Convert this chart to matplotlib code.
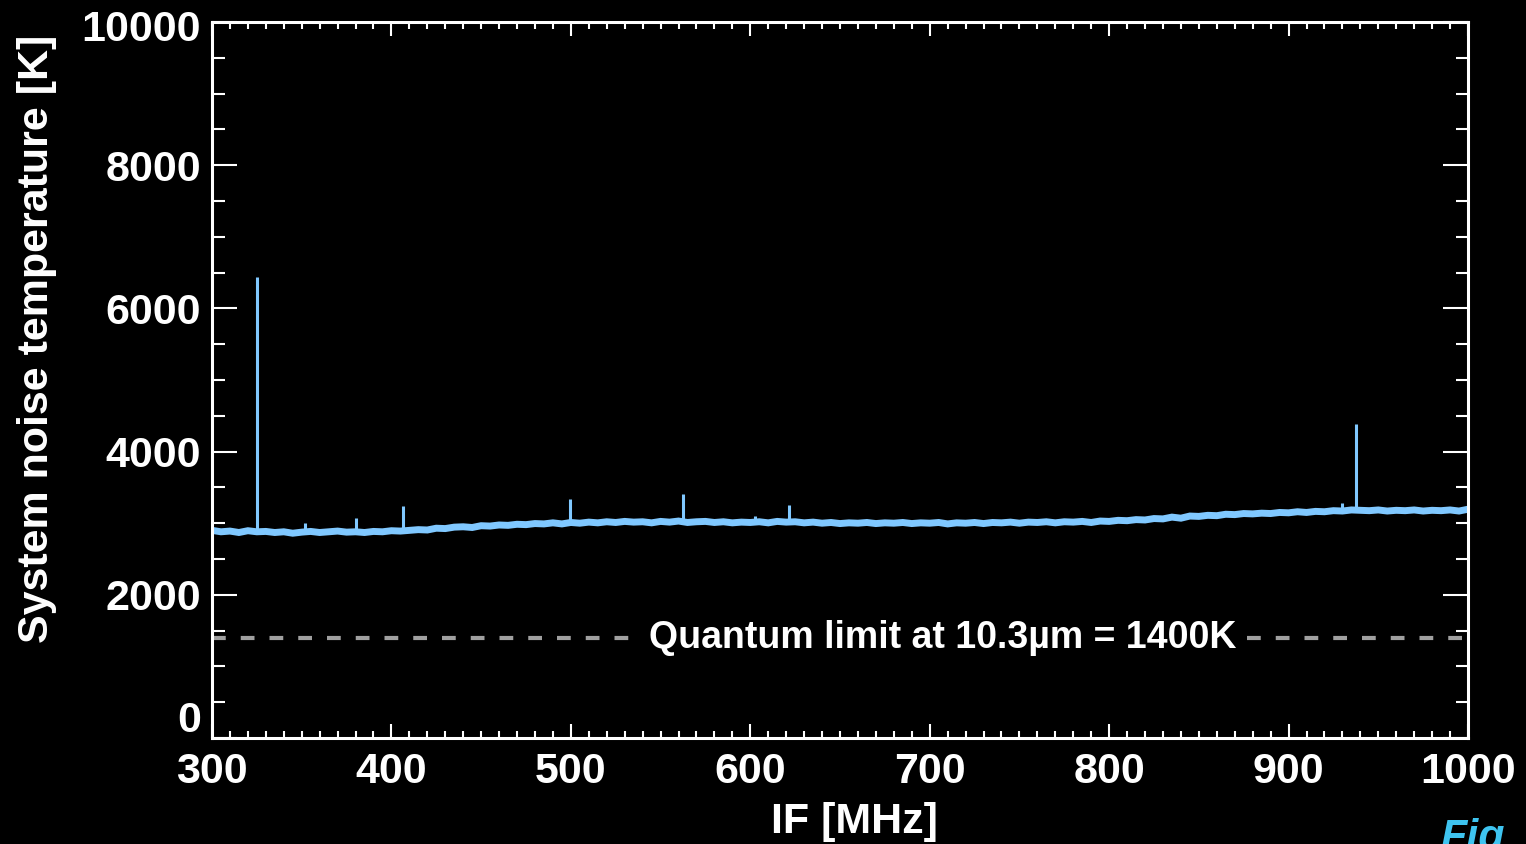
import numpy as np
import matplotlib
matplotlib.use('Agg')
import matplotlib.pyplot as plt
from matplotlib.ticker import MultipleLocator, FuncFormatter

if_start = 300
if_step = 5
t_sys = [
    2900, 2880, 2890, 2870, 2895, 2880, 2885, 2870, 2880, 2860,   # 300-345
    2875, 2885, 2870, 2880, 2890, 2875, 2880, 2870, 2885, 2880,   # 350-395
    2895, 2890, 2900, 2910, 2905, 2930, 2925, 2945, 2950, 2940,   # 400-445
    2965, 2960, 2975, 2970, 2985, 2980, 2995, 2990, 3005, 2990,   # 450-495
    3010, 3000, 3015, 3005, 3020, 3010, 3025, 3015, 3020, 3005,   # 500-545
    3025, 3015, 3030, 3010, 3020, 3025, 3010, 3020, 3005, 3015,   # 550-595
    3010, 3020, 3005, 3025, 3015, 3020, 3005, 3015, 3000, 3010,   # 600-645
    2995, 3005, 3000, 3010, 2995, 3005, 3000, 3010, 2995, 3005,   # 650-695
    3000, 3010, 2990, 3005, 3000, 3010, 2995, 3010, 3005, 3015,   # 700-745
    3000, 3015, 3010, 3020, 3005, 3020, 3015, 3025, 3010, 3030,   # 750-795
    3025, 3040, 3035, 3050, 3045, 3065, 3060, 3085, 3070, 3100,   # 800-845
    3095, 3110, 3105, 3125, 3120, 3135, 3130, 3140, 3135, 3150,   # 850-895
    3145, 3160, 3150, 3165, 3160, 3175, 3170, 3185, 3180, 3175,   # 900-945
    3185, 3170, 3180, 3175, 3185, 3170, 3180, 3175, 3185, 3170,   # 950-995
    3195,                                                         # 1000
]

# Узкие пики (частота, МГц / вершина, K)
spike_freq = [325, 352, 380, 406.5, 499.5, 562.5, 602.7, 621.6, 930, 937.7]
spike_peak = [6440, 3000, 3070, 3240, 3340, 3410, 3100, 3250, 3280, 4390]

quantum_limit = 1400
ql_text = 'Quantum limit at 10.3µm = 1400K'

# Цвета
c_line = '#80c8ff'
c_dash = '#a0a0a0'
c_fig = '#3ec4f0'

plt.rcParams['font.family'] = ['Liberation Sans', 'DejaVu Sans']
plt.rcParams['font.weight'] = 'bold'

freq = if_start + if_step * np.arange(len(t_sys))

fig = plt.figure(figsize=(15.26, 8.44), dpi=100, facecolor='black')
ax = fig.add_axes([212 / 1526, 1 - 738 / 844, (1468 - 212) / 1526, (738 - 22) / 844])
ax.set_facecolor('black')

ax.plot(freq, t_sys, color=c_line, linewidth=5, solid_joinstyle='miter')
spike_base = np.interp(spike_freq, freq, t_sys)
ax.vlines(spike_freq, spike_base, spike_peak, color=c_line, linewidth=2.2)

ax.axhline(quantum_limit, color=c_dash, linewidth=3, dashes=(3.3, 3.6))
ax.text(707, quantum_limit, ql_text, color='white', fontsize=27, fontweight='bold',
        ha='center', va='center',
        bbox=dict(facecolor='black', edgecolor='none', pad=6))

ax.set_xlim(300, 1000)
ax.set_ylim(0, 10000)
ax.xaxis.set_major_locator(MultipleLocator(100))
ax.xaxis.set_minor_locator(MultipleLocator(10))
ax.yaxis.set_major_locator(MultipleLocator(2000))
ax.yaxis.set_minor_locator(MultipleLocator(500))

y_lo, y_hi = 0, 10000
# крайние подписи оси Y рисуются отдельно, со сдвигом внутрь
ax.yaxis.set_major_formatter(FuncFormatter(lambda v, p: '' if v in (y_lo, y_hi) else '%d' % v))

for sp in ax.spines.values():
    sp.set_color('white')
    sp.set_linewidth(2.2)

ax.tick_params(axis='both', which='both', direction='in', colors='white',
               top=True, right=True, width=1.5, labelsize=31)
ax.tick_params(axis='x', which='major', length=10, pad=10)
ax.tick_params(axis='x', which='minor', length=5)
ax.tick_params(axis='y', which='major', length=18, pad=8)
ax.tick_params(axis='y', which='minor', length=9)

ytrans = ax.get_yaxis_transform()
ax.annotate('%d' % y_lo, xy=(0, y_lo), xycoords=ytrans, xytext=(-8, 12),
            textcoords='offset points', ha='right', va='center',
            color='white', fontsize=31, fontweight='bold')
ax.annotate('%d' % y_hi, xy=(0, y_hi), xycoords=ytrans, xytext=(-8, -6),
            textcoords='offset points', ha='right', va='center',
            color='white', fontsize=31, fontweight='bold')

ax.set_xlabel('IF [MHz]', color='white', fontsize=31, fontweight='bold')
ax.xaxis.set_label_coords((854 - 212) / 1256, -(822 - 738) / 716)
ax.xaxis.label.set_va('center')
ax.set_ylabel('System noise temperature [K]', color='white', fontsize=31,
              fontweight='bold')
ax.yaxis.set_label_coords((37 - 212) / 1256, (738 - 339) / 716)
ax.yaxis.label.set_va('center')

fig.text(1440 / 1526, -0.006, 'Fig', color=c_fig, fontsize=31, fontweight='bold',
         fontstyle='italic', ha='left', va='baseline')

fig.savefig('out.png', dpi=100, facecolor='black')
